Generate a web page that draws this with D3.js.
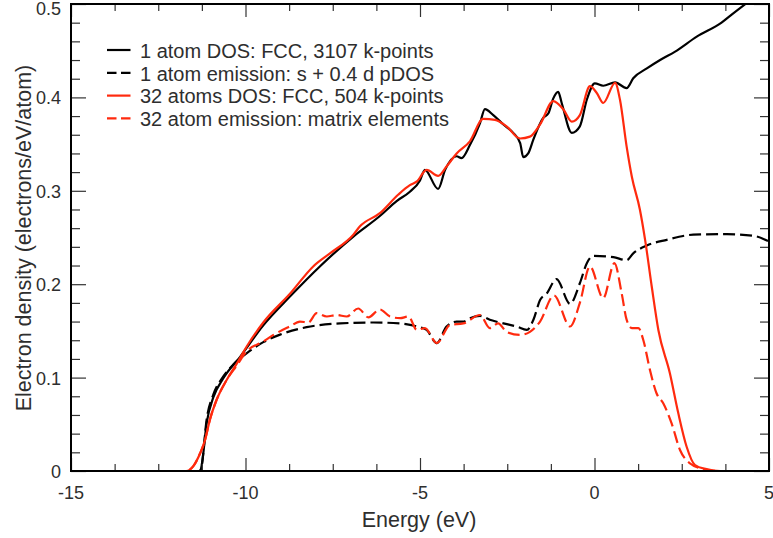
<!DOCTYPE html>
<html>
<head>
<meta charset="utf-8">
<script src="https://cdn.jsdelivr.net/npm/d3@7"></script>
<style>
  html, body { margin: 0; padding: 0; background: #fff; }
  svg { display: block; font-family: "Liberation Sans", Arial, Helvetica, sans-serif; }
</style>
</head>
<body>
<svg id="chart" width="773" height="538"></svg>
<script>
// Energy grid (eV) and density values (electrons/eV/atom) for each curve

// 1 atom DOS: FCC, 3107 k-points
const dos1Energy = [-15, -11.3, -11.26, -11.11, -10.92, -10.64, -10.16, -9.49, -8.72, -7.87, -6.91, -6.15, -5.67, -5.29, -5.0, -4.86, -4.48, -4.28, -3.95, -3.81, -3.57, -3.28, -3.14, -2.90, -2.61, -2.33, -2.13, -2.04, -1.90, -1.75, -1.47, -1.32, -1.18, -1.04, -0.94, -0.65, -0.42, -0.22, 0.01, 0.25, 0.59, 0.92, 1.11, 1.50, 1.88, 2.31, 2.93, 3.64, 3.93, 4.36];
const dos1Value  = [0, 0, 0.005, 0.052, 0.079, 0.099, 0.122, 0.156, 0.187, 0.219, 0.251, 0.273, 0.289, 0.299, 0.311, 0.3225, 0.302, 0.3225, 0.337, 0.335, 0.349, 0.3725, 0.3875, 0.381, 0.371, 0.362, 0.351, 0.336, 0.340, 0.355, 0.378, 0.383, 0.399, 0.406, 0.394, 0.362, 0.369, 0.3975, 0.415, 0.4125, 0.416, 0.410, 0.4205, 0.431, 0.440, 0.449, 0.465, 0.480, 0.4886, 0.501];

// 1 atom emission: s + 0.4 d pDOS
const em1Energy = [-15, -11.3, -11.26, -11.11, -10.92, -10.64, -10.35, -9.97, -9.49, -9.01, -8.25, -7.29, -6.34, -5.57, -5.09, -4.81, -4.52, -4.24, -3.95, -3.76, -3.57, -3.28, -3.0, -2.61, -2.23, -1.94, -1.75, -1.56, -1.37, -1.09, -0.70, -0.42, -0.22, -0.03, 0.54, 0.92, 1.11, 1.50, 2.07, 2.83, 3.79, 4.55, 5.0];
const em1Value  = [0, 0, 0.005, 0.056, 0.082, 0.101, 0.114, 0.126, 0.138, 0.146, 0.154, 0.158, 0.159, 0.158, 0.1547, 0.151, 0.137, 0.1547, 0.160, 0.160, 0.1635, 0.166, 0.162, 0.158, 0.1547, 0.151, 0.162, 0.183, 0.190, 0.2055, 0.179, 0.201, 0.2225, 0.2304, 0.229, 0.2257, 0.233, 0.2414, 0.2475, 0.253, 0.2536, 0.2518, 0.2457];

// 32 atoms DOS: FCC, 504 k-points
const dos32Energy = [-15, -11.7, -11.5, -11.30, -11.16, -11.02, -10.83, -10.54, -10.25, -9.97, -9.49, -8.72, -8.06, -7.58, -6.91, -6.72, -6.15, -5.62, -5.29, -5.09, -4.81, -4.48, -4.24, -3.95, -3.57, -3.19, -2.85, -2.52, -2.13, -1.85, -1.56, -1.18, -0.89, -0.65, -0.42, -0.13, 0.06, 0.25, 0.59, 0.73, 0.92, 1.07, 1.30, 1.45, 1.64, 1.83, 2.16, 2.40, 2.64, 2.88, 3.21, 3.6, 5];
const dos32Value  = [0, 0, 0.005, 0.019, 0.033, 0.055, 0.076, 0.0975, 0.115, 0.133, 0.159, 0.190, 0.219, 0.233, 0.253, 0.262, 0.276, 0.296, 0.306, 0.310, 0.3225, 0.316, 0.326, 0.340, 0.353, 0.377, 0.376, 0.369, 0.356, 0.358, 0.371, 0.396, 0.387, 0.374, 0.381, 0.412, 0.405, 0.394, 0.4155, 0.3975, 0.3475, 0.315, 0.280, 0.2475, 0.1975, 0.151, 0.1047, 0.062, 0.026, 0.0064, 0.002, 0, 0];

// 32 atom emission: matrix elements
const em32Energy = [-15, -11.7, -11.5, -11.30, -11.16, -11.02, -10.83, -10.54, -10.25, -9.97, -9.49, -9.20, -8.72, -8.44, -8.20, -7.96, -7.67, -7.39, -7.10, -6.77, -6.48, -6.15, -5.86, -5.57, -5.33, -5.09, -4.86, -4.52, -4.14, -3.76, -3.28, -3.0, -2.76, -2.52, -2.13, -1.85, -1.56, -1.16, -0.70, -0.42, -0.13, 0.25, 0.57, 0.78, 0.92, 1.07, 1.26, 1.40, 1.59, 1.78, 1.97, 2.21, 2.45, 2.74, 3.02, 3.5, 5];
const em32Value  = [0, 0, 0.005, 0.019, 0.033, 0.055, 0.076, 0.0975, 0.113, 0.128, 0.1386, 0.1457, 0.155, 0.160, 0.159, 0.169, 0.1654, 0.167, 0.1654, 0.174, 0.1645, 0.173, 0.1654, 0.1636, 0.1654, 0.151, 0.153, 0.137, 0.1564, 0.158, 0.167, 0.153, 0.158, 0.149, 0.1457, 0.149, 0.160, 0.188, 0.1547, 0.180, 0.219, 0.185, 0.2225, 0.190, 0.162, 0.153, 0.153, 0.140, 0.108, 0.083, 0.0725, 0.051, 0.0225, 0.008, 0.003, 0, 0];

const legendLabels = [
  "1 atom DOS: FCC, 3107 k-points",
  "1 atom emission: s + 0.4 d pDOS",
  "32 atoms DOS: FCC, 504 k-points",
  "32 atom emission: matrix elements"
];
const xTickValues = [-15, -10, -5, 0, 5];
const yTickValues = [0, 0.1, 0.2, 0.3, 0.4, 0.5];
const xLabel = "Energy (eV)";
const yLabel = "Electron density (electrons/eV/atom)";

// ---- layout ----
const plotLeft = 71, plotRight = 769, plotTop = 4, plotBottom = 471;
const RED = "#ff2a0e";
const TEXT = "#2e2e2e";

const svg = d3.select("#chart");

const x = d3.scaleLinear().domain([-15, 5]).range([plotLeft, plotRight]);
const y = d3.scaleLinear().domain([0, 0.5]).range([plotBottom, plotTop]);

const series = [
  { e: dos1Energy,  v: dos1Value,  color: "#000", dash: null },
  { e: em1Energy,   v: em1Value,   color: "#000", dash: "12,5" },
  { e: dos32Energy, v: dos32Value, color: RED,    dash: null },
  { e: em32Energy,  v: em32Value,  color: RED,    dash: "12,5" }
];

svg.append("defs").append("clipPath").attr("id", "plotClip")
  .append("rect").attr("x", plotLeft).attr("y", plotTop)
  .attr("width", plotRight - plotLeft).attr("height", plotBottom - plotTop);

const line = d3.line()
  .x(d => x(d[0]))
  .y(d => y(d[1]))
  .curve(d3.curveMonotoneX);

const plot = svg.append("g").attr("clip-path", "url(#plotClip)");
series.forEach(s => {
  plot.append("path")
    .datum(s.e.map((en, i) => [en, s.v[i]]))
    .attr("d", line)
    .attr("fill", "none")
    .attr("stroke", s.color)
    .attr("stroke-width", 2.2)
    .attr("stroke-linejoin", "round")
    .attr("stroke-dasharray", s.dash);
});

// ---- axes: inward ticks on all four sides ----
const xMinor = d3.range(-15, 5.001, 1.25).filter(v => !xTickValues.includes(v));
const yMinor = d3.range(0, 0.5001, 0.02).map(v => +v.toFixed(2))
  .filter(v => !yTickValues.some(t => Math.abs(t - v) < 1e-9));

function styleAxis(g) {
  g.select(".domain").remove();
  g.selectAll(".tick line").attr("stroke", "#333").attr("stroke-width", 1.2);
}

// bottom
svg.append("g").attr("transform", `translate(0,${plotBottom})`)
  .call(d3.axisTop(x).tickValues(xTickValues).tickSize(13).tickFormat(""))
  .call(styleAxis);
svg.append("g").attr("transform", `translate(0,${plotBottom})`)
  .call(d3.axisTop(x).tickValues(xMinor).tickSize(7).tickFormat(""))
  .call(styleAxis);
// top
svg.append("g").attr("transform", `translate(0,${plotTop})`)
  .call(d3.axisBottom(x).tickValues(xTickValues).tickSize(13).tickFormat(""))
  .call(styleAxis);
svg.append("g").attr("transform", `translate(0,${plotTop})`)
  .call(d3.axisBottom(x).tickValues(xMinor).tickSize(7).tickFormat(""))
  .call(styleAxis);
// left
svg.append("g").attr("transform", `translate(${plotLeft},0)`)
  .call(d3.axisRight(y).tickValues(yTickValues).tickSize(15).tickFormat(""))
  .call(styleAxis);
svg.append("g").attr("transform", `translate(${plotLeft},0)`)
  .call(d3.axisRight(y).tickValues(yMinor).tickSize(9).tickFormat(""))
  .call(styleAxis);
// right
svg.append("g").attr("transform", `translate(${plotRight},0)`)
  .call(d3.axisLeft(y).tickValues(yTickValues).tickSize(15).tickFormat(""))
  .call(styleAxis);
svg.append("g").attr("transform", `translate(${plotRight},0)`)
  .call(d3.axisLeft(y).tickValues(yMinor).tickSize(9).tickFormat(""))
  .call(styleAxis);

// frame
svg.append("rect")
  .attr("x", plotLeft).attr("y", plotTop)
  .attr("width", plotRight - plotLeft).attr("height", plotBottom - plotTop)
  .attr("fill", "none").attr("stroke", "#000").attr("stroke-width", 2);

// tick labels
const fmtY = d => d === 0 ? "0" : d3.format(".1f")(d);
svg.append("g").selectAll("text").data(yTickValues).join("text")
  .attr("x", plotLeft - 10)
  .attr("y", d => Math.max(y(d) + 7, 14.5))
  .attr("text-anchor", "end")
  .attr("font-size", 18)
  .attr("fill", TEXT)
  .text(fmtY);

svg.append("g").selectAll("text").data(xTickValues).join("text")
  .attr("x", d => x(d))
  .attr("y", plotBottom + 28)
  .attr("text-anchor", "middle")
  .attr("font-size", 18)
  .attr("fill", TEXT)
  .text(d => d);

// axis titles
svg.append("text")
  .attr("x", 419)
  .attr("y", 527)
  .attr("text-anchor", "middle")
  .attr("font-size", 21.5)
  .attr("fill", TEXT)
  .text(xLabel);

svg.append("text")
  .attr("transform", `translate(31,${238}) rotate(-90)`)
  .attr("text-anchor", "middle")
  .attr("font-size", 21.5)
  .attr("fill", TEXT)
  .text(yLabel);

// legend
const legend = svg.append("g");
series.forEach((s, i) => {
  const cy = 50 + i * 22.8;
  legend.append("line")
    .attr("x1", 107).attr("x2", 130.5)
    .attr("y1", cy).attr("y2", cy)
    .attr("stroke", s.color)
    .attr("stroke-width", 2.2)
    .attr("stroke-dasharray", s.dash ? "9.5,4.5" : null);
  legend.append("text")
    .attr("x", 140)
    .attr("y", cy + 7.8)
    .attr("font-size", 20)
    .attr("fill", TEXT)
    .text(legendLabels[i]);
});
</script>
</body>
</html>
